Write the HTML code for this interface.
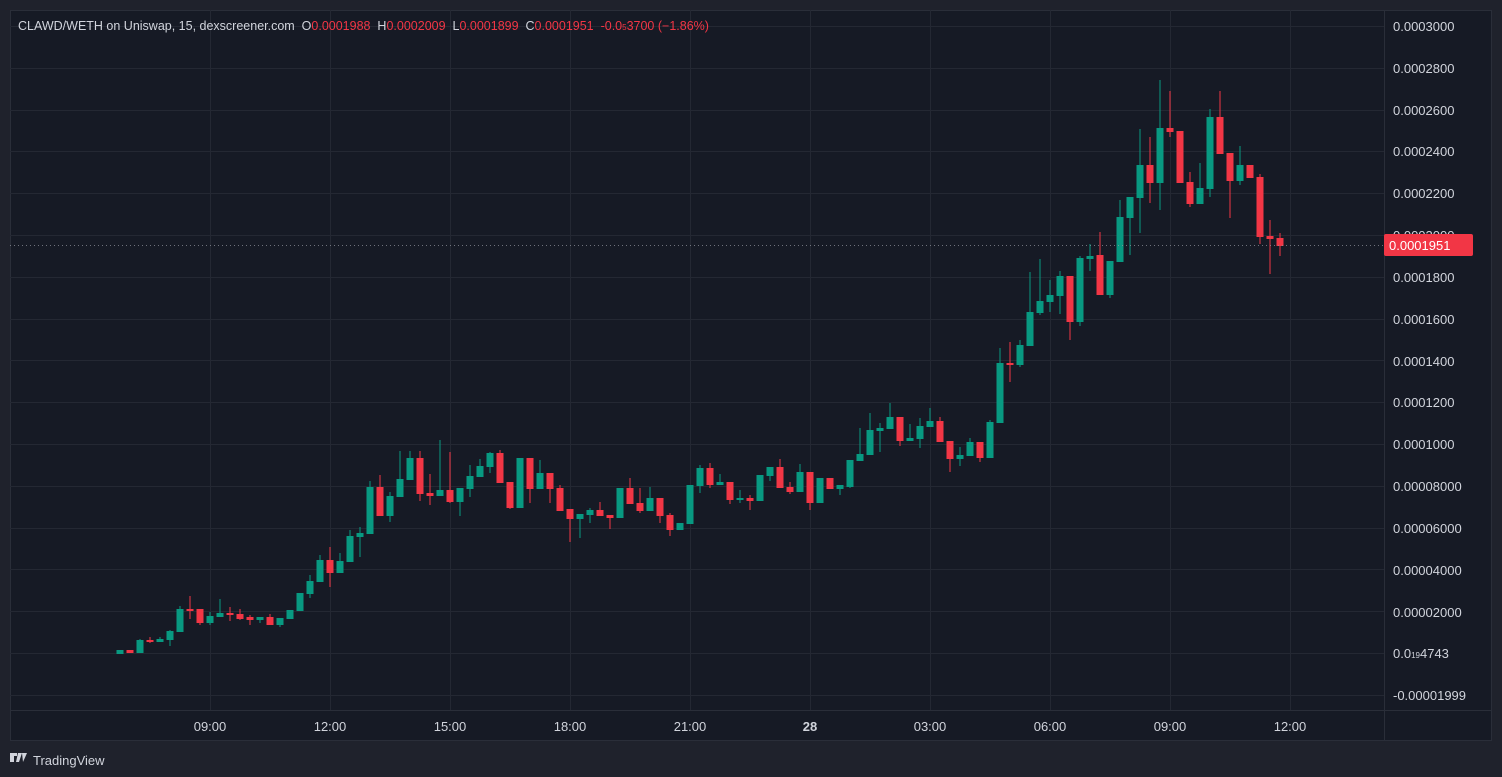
<!DOCTYPE html>
<html><head><meta charset="utf-8"><style>
html,body{margin:0;padding:0;background:#1f222c;width:1502px;height:777px;overflow:hidden;font-family:"Liberation Sans",sans-serif}
svg{position:absolute;left:0;top:0}
.hdr{white-space:pre}
</style></head><body>
<svg width="1502" height="777" xmlns="http://www.w3.org/2000/svg">
<rect x="0" y="0" width="1502" height="777" fill="#1f222c"/>
<rect x="10.5" y="10.5" width="1481" height="730" fill="#161a25" stroke="#2a2e39"/>
<g id="grid" stroke="#242833" stroke-width="1"></g>
<line x1="1384.5" y1="10" x2="1384.5" y2="741" stroke="#2a2e39"/>
<line x1="10" y1="710.5" x2="1492" y2="710.5" stroke="#2a2e39"/>
<g id="candles"></g>
<line x1="10" y1="245.5" x2="1384" y2="245.5" stroke="#9598a1" stroke-dasharray="1,3" opacity="0.7"/>
<g font-size="13" fill="#d1d4dc" id="ylab">
<text x="1393" y="31">0.0003000</text>
<text x="1393" y="73">0.0002800</text>
<text x="1393" y="115">0.0002600</text>
<text x="1393" y="156">0.0002400</text>
<text x="1393" y="198">0.0002200</text>
<text x="1393" y="240">0.0002000</text>
<text x="1393" y="282">0.0001800</text>
<text x="1393" y="324">0.0001600</text>
<text x="1393" y="366">0.0001400</text>
<text x="1393" y="407">0.0001200</text>
<text x="1393" y="449">0.0001000</text>
<text x="1393" y="491">0.00008000</text>
<text x="1393" y="533">0.00006000</text>
<text x="1393" y="575">0.00004000</text>
<text x="1393" y="617">0.00002000</text>
<text x="1393" y="658">0.0<tspan font-size="8">19</tspan>4743</text>
<text x="1393" y="700">-0.00001999</text>
</g>
<rect x="1384" y="234" width="89" height="22" fill="#f23645" rx="2"/>
<text x="1389" y="250" font-size="13" fill="#ffffff">0.0001951</text>
<g font-size="13" fill="#d1d4dc" text-anchor="middle">
<text x="210" y="731">09:00</text><text x="330" y="731">12:00</text><text x="450" y="731">15:00</text>
<text x="570" y="731">18:00</text><text x="690" y="731">21:00</text><text x="810" y="731" font-weight="bold">28</text>
<text x="930" y="731">03:00</text><text x="1050" y="731">06:00</text><text x="1170" y="731">09:00</text><text x="1290" y="731">12:00</text>
</g>
<text class="hdr" x="18" y="30" font-size="12.5" fill="#d1d4dc">CLAWD/WETH on Uniswap, 15, dexscreener.com  O<tspan fill="#f23645">0.0001988</tspan>  H<tspan fill="#f23645">0.0002009</tspan>  L<tspan fill="#f23645">0.0001899</tspan>  C<tspan fill="#f23645">0.0001951  -0.0<tspan font-size="8">5</tspan>3700 (−1.86%)</tspan></text>
<g fill="#d1d4dc"><path d="M10 753h7v3h-3v6h-4z M18 753h4l-3 9h-3z M22 753h5l-4 9z"/></g>
<text x="33" y="765" font-size="13" fill="#d1d4dc">TradingView</text>
</svg>
<script>
var g=document.getElementById('grid'),ns='http://www.w3.org/2000/svg';
function ln(x1,y1,x2,y2){var l=document.createElementNS(ns,'line');l.setAttribute('x1',x1);l.setAttribute('y1',y1);l.setAttribute('x2',x2);l.setAttribute('y2',y2);g.appendChild(l);}
for(var i=0;i<17;i++){var y=Math.round(26+i*41.8)+.5;ln(10,y,1384,y);}
for(var x=210;x<=1290;x+=120)ln(x+.5,10,x+.5,710);
var D=[[120,650,654,650,654,'g'],[130,650,653,650,653,'r'],[140,639,653,640,653,'g'],[150,637,643,640,641,'r'],[160,637,642,639,642,'g'],[170,630,646,631,640,'g'],[180,606,632,609,632,'g'],[190,596,619,609,610,'r'],[200,609,625,609,623,'r'],[210,612,625,616,623,'g'],[220,599,617,613,617,'g'],[230,607,621,613,614,'r'],[240,609,620,614,619,'r'],[250,615,625,617,620,'r'],[260,617,623,617,620,'g'],[270,614,625,617,625,'r'],[280,618,627,618,625,'g'],[290,610,619,610,619,'g'],[300,593,611,593,611,'g'],[310,575,598,581,594,'g'],[320,555,582,560,582,'g'],[330,547,587,560,573,'r'],[340,553,573,561,573,'g'],[350,530,562,536,562,'g'],[360,527,557,533,537,'g'],[370,481,534,487,534,'g'],[380,475,516,487,516,'r'],[390,492,522,496,516,'g'],[400,451,497,479,497,'g'],[410,451,480,458,480,'g'],[420,451,501,458,494,'r'],[430,474,505,493,496,'r'],[440,440,496,490,496,'g'],[450,452,503,490,502,'r'],[460,488,516,488,502,'g'],[470,465,497,476,489,'g'],[480,459,477,466,477,'g'],[490,452,473,453,467,'g'],[500,450,483,453,483,'r'],[510,482,509,482,508,'r'],[520,458,508,458,508,'g'],[530,458,503,458,489,'r'],[540,460,489,473,489,'g'],[550,473,503,473,489,'r'],[560,485,511,488,511,'r'],[570,509,542,509,519,'r'],[580,514,538,514,519,'g'],[590,508,523,510,515,'g'],[600,502,516,510,516,'r'],[610,515,529,515,518,'r'],[620,488,518,488,518,'g'],[630,478,504,488,504,'r'],[640,488,513,503,511,'r'],[650,487,511,498,511,'g'],[660,498,523,498,516,'r'],[670,513,536,515,530,'r'],[680,523,530,523,530,'g'],[690,485,524,485,524,'g'],[700,465,493,468,486,'g'],[710,463,488,468,485,'r'],[720,474,485,482,485,'g'],[730,482,504,482,500,'r'],[740,490,503,498,500,'g'],[750,495,510,498,501,'r'],[760,475,501,475,501,'g'],[770,467,481,467,476,'g'],[780,459,488,467,488,'r'],[790,482,494,487,492,'r'],[800,464,492,472,492,'g'],[810,472,510,472,503,'r'],[820,478,503,478,503,'g'],[830,478,489,478,489,'r'],[840,485,495,485,489,'g'],[850,460,488,460,487,'g'],[860,428,461,454,461,'g'],[870,413,455,430,455,'g'],[880,423,452,428,431,'g'],[890,403,429,417,429,'g'],[900,417,446,417,441,'r'],[910,424,441,438,441,'g'],[920,418,448,426,439,'g'],[930,408,427,421,427,'g'],[940,417,442,421,442,'r'],[950,441,472,441,459,'r'],[960,447,466,455,459,'g'],[970,438,456,442,456,'g'],[980,442,462,442,458,'r'],[990,420,458,422,458,'g'],[1000,348,423,363,423,'g'],[1010,342,382,363,365,'r'],[1020,340,367,345,365,'g'],[1030,272,346,312,346,'g'],[1040,259,315,301,313,'g'],[1050,280,312,295,302,'g'],[1060,271,314,276,296,'g'],[1070,276,340,276,322,'r'],[1080,256,326,258,322,'g'],[1090,244,271,256,259,'g'],[1100,232,295,255,295,'r'],[1110,261,298,261,295,'g'],[1120,200,262,217,262,'g'],[1130,197,255,197,218,'g'],[1140,129,233,165,198,'g'],[1150,137,203,165,183,'r'],[1160,80,210,128,183,'g'],[1170,91,137,128,132,'r'],[1180,131,183,131,183,'r'],[1190,172,207,182,204,'r'],[1200,163,204,188,204,'g'],[1210,109,197,117,189,'g'],[1220,91,154,117,154,'r'],[1230,153,218,153,181,'r'],[1240,146,185,165,181,'g'],[1250,165,178,165,178,'r'],[1260,174,244,177,237,'r'],[1270,220,274,236,239,'r'],[1280,233,256,238,246,'r']];
var c=document.getElementById('candles');
D.forEach(function(d){var col=d[5]=='g'?'#089981':'#f23645';
var w=document.createElementNS(ns,'rect');w.setAttribute('x',d[0]-0.5);w.setAttribute('y',d[1]);w.setAttribute('width',1);w.setAttribute('height',Math.max(1,d[2]-d[1]));w.setAttribute('fill',col);c.appendChild(w);
var b=document.createElementNS(ns,'rect');b.setAttribute('x',d[0]-3.5);b.setAttribute('y',d[3]);b.setAttribute('width',7);b.setAttribute('height',Math.max(2,d[4]-d[3]));b.setAttribute('fill',col);c.appendChild(b);});
</script>
</body></html>
